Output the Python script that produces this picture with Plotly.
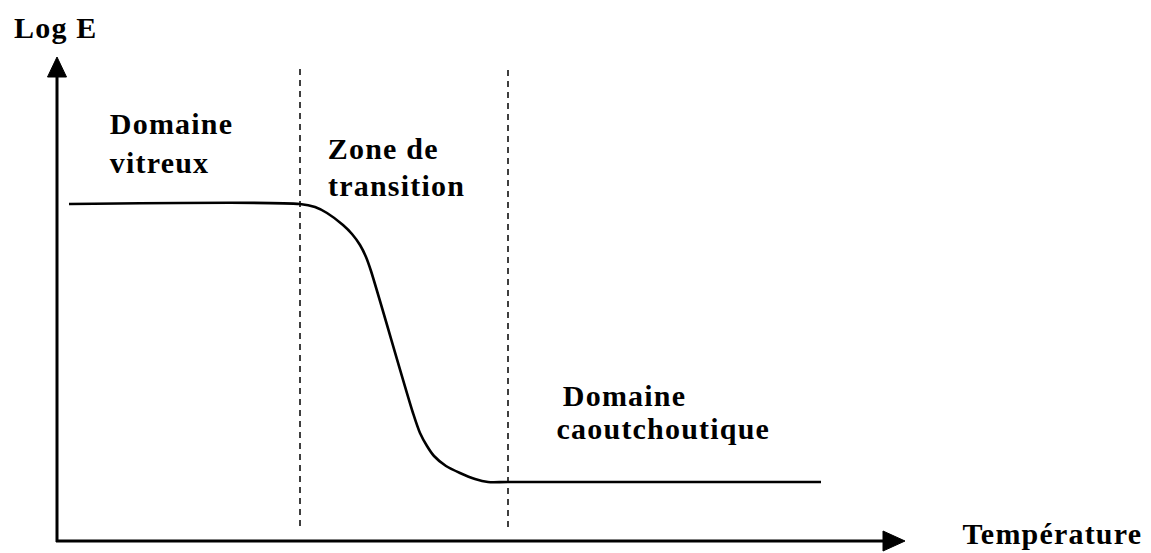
import plotly.graph_objects as go

# Schematic curve: Log E versus temperature (units: drawing coordinates, y measured downward)
temperature = [69, 300, 315, 327, 343, 352, 360, 366, 371, 413, 420, 427, 434, 446, 460, 475, 488, 508, 821]
log_e = [204, 204, 207, 213, 225, 234, 245, 257, 271, 413, 433, 446, 456, 466, 473, 479, 482, 482, 482]

# Boundaries between domains (dashed lines)
boundaries = [300, 508]
boundary_top = [69, 70]
boundary_bottom = 528

# Labels
region_labels = [
    ("Domaine", 108, 123), ("vitreux", 108, 162),
    ("Zone de", 326, 148), ("transition", 326, 185),
    ("Domaine", 561, 395), ("caoutchoutique", 555, 428),
]
y_title = ("Log E", 12, 27)
x_title = ("Température", 960, 533)

# page offset of the plot (browser body margin)
OFF = 8
W, H = 1151, 553
LS = 1.2  # letter spacing in px
font = dict(family="Liberation Serif, Times New Roman, serif", size=30, color="black", weight="bold")

fig = go.Figure()
fig.add_trace(go.Scatter(x=temperature, y=log_e, mode="lines",
                         line=dict(color="black", width=2.6, shape="spline", smoothing=0.8),
                         hoverinfo="skip", showlegend=False))

shapes = []
# Axes
axis_x0, axis_y0 = 57, 541
shapes.append(dict(type="line", x0=axis_x0, y0=axis_y0 + 1, x1=axis_x0, y1=74,
                   line=dict(color="black", width=3)))
shapes.append(dict(type="line", x0=axis_x0 - 1, y0=axis_y0, x1=885, y1=axis_y0,
                   line=dict(color="black", width=3)))
# Arrow heads
shapes.append(dict(type="path", path=f"M {axis_x0-9.5},77 L {axis_x0+9.5},77 L {axis_x0},57 Z",
                   fillcolor="black", line=dict(color="black", width=1)))
shapes.append(dict(type="path", path=f"M 883,{axis_y0-10} L 883,{axis_y0+10} L 905,{axis_y0} Z",
                   fillcolor="black", line=dict(color="black", width=1)))
# Dashed boundaries
for bx, bt in zip(boundaries, boundary_top):
    shapes.append(dict(type="line", x0=bx, y0=bt, x1=bx, y1=boundary_bottom,
                       line=dict(color="black", width=1.5, dash="6px,5px")))

annotations = []
for text, x, y in region_labels + [y_title, x_title]:
    # text is centred inside its box, so letter spacing widens it on both sides
    shift = LS * len(text) / 2
    annotations.append(dict(text=text, x=x + shift, y=y, xref="x", yref="y", xanchor="left",
                            yanchor="middle", showarrow=False, font=font))

fig.update_layout(
    width=W - OFF, height=H - OFF, margin=dict(l=0, r=0, t=0, b=0),
    paper_bgcolor="white", plot_bgcolor="white",
    xaxis=dict(range=[OFF, W], visible=False, fixedrange=True),
    yaxis=dict(range=[H, OFF], visible=False, fixedrange=True),
    shapes=shapes, annotations=annotations,
)
post = ("document.querySelectorAll('.annotation-text').forEach(function(e){"
        "e.style.letterSpacing='%spx';});" % LS)
fig.write_html("out.html", config={"displayModeBar": False}, post_script=post)
